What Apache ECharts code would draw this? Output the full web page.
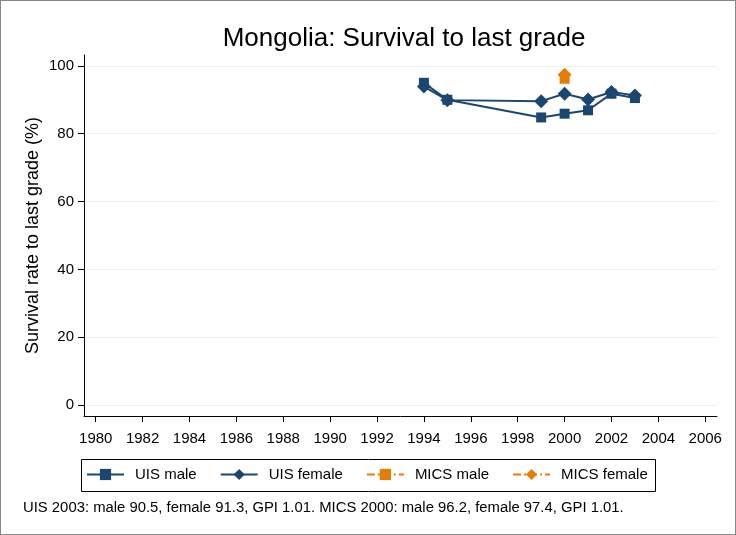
<!DOCTYPE html>
<html><head><meta charset="utf-8">
<script src="https://cdn.jsdelivr.net/npm/echarts@6/dist/echarts.min.js"></script>
<style>html,body{margin:0;padding:0;background:#fff}#c{width:736px;height:535px;box-sizing:border-box;border:1px solid #888}</style>
</head><body><div id="c"></div>
<script>
const years = [1994, 1995, 1999, 2000, 2001, 2002, 2003];
const uisMale = [95.0, 90.0, 84.8, 85.9, 86.9, 91.8, 90.5];
const uisFemale = [93.9, 89.9, 89.6, 91.8, 90.1, 92.3, 91.3];
const micsYears = [2000];
const micsMale = [96.2];
const micsFemale = [97.4];
const xTicks = [1980,1982,1984,1986,1988,1990,1992,1994,1996,1998,2000,2002,2004,2006];
const yTicks = [0,20,40,60,80,100];
const navy = '#1a476f', orange = '#e37e00';
const pair = (xs, ys) => xs.map((x, i) => [x, ys[i]]);
const chart = echarts.init(document.getElementById('c'));
const font = 'Liberation Sans, Arial, sans-serif';
chart.setOption({
  animation: false,
  textStyle: {fontFamily: font},
  title: {text: 'Mongolia: Survival to last grade', left: 398, top: 20, textAlign: 'center',
    textStyle: {fontFamily: font, fontSize: 26, fontWeight: 'normal', color: '#000'}},
  grid: {left: 83, right: 18, top: 54, bottom: 118},
  xAxis: {type: 'value', min: 1979.5, max: 2006.5,
    axisLine: {show: true, onZero: false, lineStyle: {color: '#000', width: 1}},
    axisTick: {show: true, length: 6, customValues: xTicks, lineStyle: {color: '#000'}},
    axisLabel: {customValues: xTicks, formatter: v => String(v), color: '#000', fontSize: 15, margin: 15, fontFamily: font},
    splitLine: {show: false}},
  yAxis: {type: 'value', min: -3.2, max: 103.2,
    name: 'Survival rate to last grade (%)', nameLocation: 'middle', nameGap: 42, nameMoveOverlap: false,
    nameTextStyle: {fontSize: 18, color: '#000', fontFamily: font},
    axisLine: {show: true, onZero: false, lineStyle: {color: '#000', width: 1}},
    axisTick: {show: true, length: 6, customValues: yTicks, lineStyle: {color: '#000'}},
    axisLabel: {customValues: yTicks, color: '#000', fontSize: 15, margin: 10, fontFamily: font},
    splitLine: {show: true, lineStyle: {color: '#eaf2f3', width: 1}}},
  legend: {left: 85, top: 466, itemGap: 23, itemWidth: 37, itemHeight: 14,
    padding: 0,
    textStyle: {fontSize: 15, color: '#000', fontFamily: font, padding: [0, 0, 0, 6]},
    data: ['UIS male', 'UIS female', 'MICS male', 'MICS female']},
  graphic: [
    {type: 'rect', shape: {x: 80.5, y: 458.5, width: 574, height: 32},
     style: {fill: 'none', stroke: '#000', lineWidth: 1}, silent: true},
    {type: 'text', left: 22, top: 499,
    style: {text: 'UIS 2003: male 90.5, female 91.3, GPI 1.01. MICS 2000: male 96.2, female 97.4, GPI 1.01.',
      fontSize: 14.85, fill: '#000', fontFamily: font}}],
  series: [
    {name: 'UIS male', type: 'line', data: pair(years, uisMale), symbol: 'rect', symbolSize: 10,
     itemStyle: {color: navy}, lineStyle: {color: navy, width: 2}},
    {name: 'UIS female', type: 'line', data: pair(years, uisFemale), symbol: 'diamond', symbolSize: 14,
     itemStyle: {color: navy}, lineStyle: {color: navy, width: 2}},
    {name: 'MICS male', type: 'line', data: pair(micsYears, micsMale), symbol: 'rect', symbolSize: 10,
     itemStyle: {color: orange}, lineStyle: {color: orange, width: 2, type: [8, 3, 2, 3]}},
    {name: 'MICS female', type: 'line', data: pair(micsYears, micsFemale), symbol: 'diamond', symbolSize: 14,
     itemStyle: {color: orange}, lineStyle: {color: orange, width: 2, type: [8, 3, 2, 3]}}
  ]
});
</script></body></html>
